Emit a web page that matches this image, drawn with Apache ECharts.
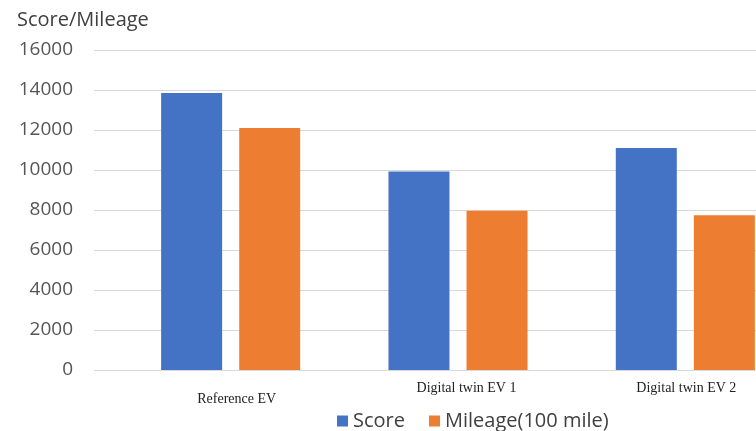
<!DOCTYPE html>
<html>
<head>
<meta charset="utf-8">
<script src="https://cdn.jsdelivr.net/npm/echarts@6/dist/echarts.min.js"></script>
<style>
  html, body { margin: 0; padding: 0; background: #fff; overflow: hidden; }
  /* canvas is wider than the window so the last group runs off the right edge */
  #chart { width: 800px; height: 431px; }
</style>
</head>
<body>
<div id="chart"></div>
<script>
// Vehicles compared
const categories = ['Reference EV', 'Digital twin EV 1', 'Digital twin EV 2'];
// Benchmark score per vehicle
const scoreValues = [13850, 9930, 11100];
// Driving range, in units of 100 miles
const mileageValues = [12100, 7960, 7740];
// Value axis ticks
const yTicks = [0, 2000, 4000, 6000, 8000, 10000, 12000, 14000, 16000];

const BLUE = '#4472C4';
const ORANGE = '#ED7D31';
const yMin = yTicks[0];
const yMax = yTicks[yTicks.length - 1];
const yStep = yTicks[1] - yTicks[0];

const chart = echarts.init(document.getElementById('chart'));

chart.setOption({
  animation: false,
  backgroundColor: '#ffffff',
  title: {
    text: 'Score/Mileage',
    left: 12,
    top: 5,
    textStyle: { fontFamily: 'Open Sans', fontSize: 20, fontWeight: 'normal', color: '#404040' }
  },
  legend: {
    left: 332,
    top: 406,
    itemWidth: 11,
    itemHeight: 11,
    itemGap: 24,
    icon: 'rect',
    textStyle: { fontFamily: 'Open Sans', fontSize: 20, color: '#404040' },
    data: ['Score', 'Mileage(100 mile)']
  },
  grid: [
    // value grid: gridlines and tick labels
    { left: 94, right: 0, top: 50, bottom: 61 },
    // bar grid: three category bands
    { left: 117, right: 1, top: 50, bottom: 61 }
  ],
  xAxis: [
    { type: 'category', gridIndex: 0, data: [''], show: false },
    {
      type: 'category',
      gridIndex: 1,
      data: categories,
      axisLine: { show: false },
      axisTick: { show: false },
      axisLabel: {
        margin: 11,
        formatter: function (value, idx) {
          return '{c' + idx + '|' + value + '}';
        },
        rich: {
          c0: { fontFamily: 'Liberation Serif', fontSize: 14, color: '#222', padding: [11, 0, 0, 12] },
          c1: { fontFamily: 'Liberation Serif', fontSize: 14, color: '#222', padding: [0, 0, 0, 17] },
          c2: { fontFamily: 'Liberation Serif', fontSize: 14, color: '#222', padding: [0, 0, 0, 2] }
        }
      }
    }
  ],
  yAxis: [
    {
      type: 'value',
      gridIndex: 0,
      min: yMin,
      max: yMax,
      interval: yStep,
      axisLine: { show: false },
      axisTick: { show: false },
      splitLine: { lineStyle: { color: '#d9d9d9', width: 1 } },
      axisLabel: {
        margin: 21,
        fontFamily: 'Open Sans',
        fontSize: 19,
        color: '#555555',
        formatter: function (v) { return String(v); }
      }
    },
    {
      type: 'value',
      gridIndex: 1,
      min: yMin,
      max: yMax,
      interval: yStep,
      show: false
    }
  ],
  series: [
    {
      name: 'Score',
      type: 'bar',
      xAxisIndex: 1,
      yAxisIndex: 1,
      data: scoreValues,
      barWidth: 61,
      barGap: '28%',
      itemStyle: { color: BLUE }
    },
    {
      name: 'Mileage(100 mile)',
      type: 'bar',
      xAxisIndex: 1,
      yAxisIndex: 1,
      data: mileageValues,
      barWidth: 61,
      barGap: '28%',
      itemStyle: { color: ORANGE }
    }
  ]
});
</script>
</body>
</html>
